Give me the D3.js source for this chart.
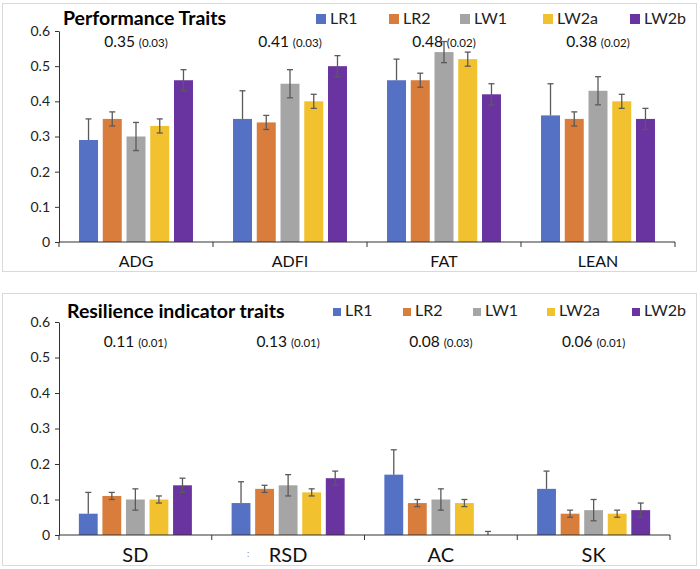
<!DOCTYPE html>
<html><head><meta charset="utf-8">
<script src="https://cdn.jsdelivr.net/npm/d3@7"></script>
<style>body{margin:0;background:#fff}svg{display:block}text{font-family:Lato,"Open Sans",sans-serif}</style>
</head><body>
<script>
const seriesNames = ["LR1","LR2","LW1","LW2a","LW2b"];
const seriesColors = ["#5471C4","#D87D3B","#A5A5A5","#F1C12F","#6A34A0"];
const plusOnly = [true,false,false,false,false];

const topCategories = ["ADG","ADFI","FAT","LEAN"];
const topLR1 = [0.29,0.35,0.46,0.36];
const topLR2 = [0.35,0.34,0.46,0.35];
const topLW1 = [0.30,0.45,0.54,0.43];
const topLW2a = [0.33,0.40,0.52,0.40];
const topLW2b = [0.46,0.50,0.42,0.35];
const topErrLR1 = [0.06,0.08,0.06,0.09];
const topErrLR2 = [0.02,0.02,0.02,0.02];
const topErrLW1 = [0.04,0.04,0.03,0.04];
const topErrLW2a = [0.02,0.02,0.02,0.02];
const topErrLW2b = [0.03,0.03,0.03,0.03];
const topH2 = ["0.35","0.41","0.48","0.38"];
const topSE = ["(0.03)","(0.03)","(0.02)","(0.02)"];

const botCategories = ["SD","RSD","AC","SK"];
const botLR1 = [0.06,0.09,0.17,0.13];
const botLR2 = [0.11,0.13,0.09,0.06];
const botLW1 = [0.10,0.14,0.10,0.07];
const botLW2a = [0.10,0.12,0.09,0.06];
const botLW2b = [0.14,0.16,0.00,0.07];
const botErrLR1 = [0.06,0.06,0.07,0.05];
const botErrLR2 = [0.01,0.01,0.01,0.01];
const botErrLW1 = [0.03,0.03,0.03,0.03];
const botErrLW2a = [0.01,0.01,0.01,0.01];
const botErrLW2b = [0.02,0.02,0.01,0.02];
const botH2 = ["0.11","0.13","0.08","0.06"];
const botSE = ["(0.01)","(0.01)","(0.03)","(0.01)"];

const yTicks = [0,0.1,0.2,0.3,0.4,0.5,0.6];

const svg = d3.select("body").append("svg").attr("width",700).attr("height",569);

function panel(cfg){
  const g = svg.append("g");
  g.append("rect").attr("x",cfg.frame[0]).attr("y",cfg.frame[1]).attr("width",cfg.frame[2]).attr("height",cfg.frame[3])
    .attr("fill","#fff").attr("stroke","#d9d9d9").attr("stroke-width",1);
  const x = d3.scaleBand().domain(cfg.cats).range(cfg.xr);
  const y = d3.scaleLinear().domain([0,0.6]).range(cfg.yr);
  const inner = d3.scaleBand().domain(seriesNames).range([x.bandwidth()*0.13, x.bandwidth()*0.87]).paddingInner(0.2);
  const ya = g.append("g").attr("transform",`translate(${cfg.xr[0]},0)`)
    .call(d3.axisLeft(y).tickValues(yTicks).tickFormat(d=>d===0?"0":d3.format(".1f")(d)).tickSize(4).tickSizeOuter(0));
  ya.select(".domain").attr("stroke","#333");
  ya.selectAll(".tick line").attr("stroke","#333");
  ya.selectAll("text").attr("font-size",14).attr("fill","#222").attr("dx",-2);
  cfg.vals.forEach((arr,si)=>{
    g.append("g").selectAll("rect").data(arr).join("rect")
      .attr("x",(d,i)=>x(cfg.cats[i])+inner(seriesNames[si]))
      .attr("width",inner.bandwidth())
      .attr("y",d=>y(d)).attr("height",d=>y(0)-y(d))
      .attr("fill",seriesColors[si]);
  });
  cfg.vals.forEach((arr,si)=>{
    const eg = g.append("g").attr("stroke","#5a5a5a").attr("stroke-width",1.3);
    arr.forEach((v,i)=>{
      const e = cfg.errs[si][i];
      const cx = x(cfg.cats[i])+inner(seriesNames[si])+inner.bandwidth()/2;
      const hi = v+e, lo = plusOnly[si]? v : Math.max(0,v-e);
      eg.append("line").attr("x1",cx).attr("x2",cx).attr("y1",y(hi)).attr("y2",y(lo));
      eg.append("line").attr("x1",cx-3).attr("x2",cx+3).attr("y1",y(hi)).attr("y2",y(hi));
      if(!plusOnly[si] && v-e>0) eg.append("line").attr("x1",cx-3).attr("x2",cx+3).attr("y1",y(lo)).attr("y2",y(lo));
    });
  });
  g.append("line").attr("x1",cfg.xr[0]).attr("x2",cfg.xr[1]).attr("y1",y(0)).attr("y2",y(0)).attr("stroke","#333").attr("stroke-width",1.2);
  const bounds = cfg.cats.map(c=>x(c)).concat([cfg.xr[1]]);
  g.selectAll(".xt").data(bounds).join("line").attr("x1",d=>d).attr("x2",d=>d)
    .attr("y1",y(0)).attr("y2",y(0)+5).attr("stroke","#333");
  g.selectAll(".xl").data(cfg.cats).join("text").attr("x",d=>x(d)+x.bandwidth()/2).attr("y",cfg.labelY)
    .attr("text-anchor","middle").attr("font-size",cfg.labelSize).attr("fill","#111").text(d=>d);
  cfg.cats.forEach((c,i)=>{
    const t = g.append("text").attr("x",x(c)+x.bandwidth()/2).attr("y",cfg.annY).attr("text-anchor","middle").attr("fill","#111");
    t.append("tspan").attr("font-size",15.5).text(cfg.h2[i]+" ");
    t.append("tspan").attr("font-size",11.5).text(cfg.se[i]);
  });
  g.append("text").attr("x",cfg.titleX).attr("y",cfg.titleY).attr("font-size",19.5).attr("font-weight","bold").attr("fill","#000").text(cfg.title);
  seriesNames.forEach((s,i)=>{
    g.append("rect").attr("x",cfg.legX[i]).attr("y",cfg.legY-cfg.sq).attr("width",cfg.sq).attr("height",cfg.sq).attr("fill",seriesColors[i]);
    g.append("text").attr("x",cfg.legX[i]+cfg.sq+4).attr("y",cfg.legY).attr("font-size",16).attr("fill","#222").text(s);
  });
  return g;
}

panel({frame:[2.5,3.5,694,268], cats:topCategories, xr:[59,675], yr:[242,31],
  vals:[topLR1,topLR2,topLW1,topLW2a,topLW2b], errs:[topErrLR1,topErrLR2,topErrLW1,topErrLW2a,topErrLW2b],
  h2:topH2, se:topSE, annY:47, labelY:267, labelSize:16, title:"Performance Traits", titleX:63, titleY:25,
  legX:[316,389,460,543,630], legY:24, sq:10});

const bp = panel({frame:[2.5,293.5,694,272], cats:botCategories, xr:[59,670], yr:[535,322],
  vals:[botLR1,botLR2,botLW1,botLW2a,botLW2b], errs:[botErrLR1,botErrLR2,botErrLW1,botErrLW2a,botErrLW2b],
  h2:botH2, se:botSE, annY:347, labelY:562, labelSize:20, title:"Resilience indicator traits", titleX:67, titleY:318,
  legX:[333,403,473,547,632], legY:316, sq:8});
bp.append("text").attr("x",247).attr("y",557).attr("font-size",9).attr("fill","#888").text(":");
</script>
</body></html>
